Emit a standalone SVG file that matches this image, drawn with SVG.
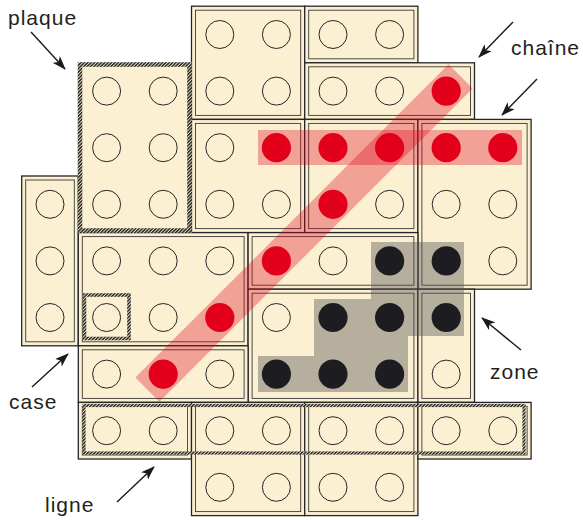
<svg xmlns="http://www.w3.org/2000/svg" width="583" height="520" viewBox="0 0 583 520">
<style>
.po{fill:#fbf0d2;stroke:#262526;stroke-width:1.3}
.pi{fill:none;stroke:#3a3838;stroke-width:0.9}
.st{fill:none;stroke:#262526;stroke-width:1}
.red{fill:#e2001a}
.blk{fill:#1d1c21}
.band{fill:#e2001a;fill-opacity:0.33}
.zone{fill:#555;fill-opacity:0.42}
.hat{fill:none;stroke:url(#hatch)}
.lbl{font-family:"Liberation Sans",Arial,sans-serif;font-size:21px;letter-spacing:1px;fill:#231f20}
.con{stroke:#1a1a1a;stroke-width:1.4;fill:none;marker-end:url(#ah)}
</style>
<defs>
<pattern id="hatch" width="2.4" height="2.4" patternUnits="userSpaceOnUse" patternTransform="rotate(45)">
<rect width="2.4" height="2.4" fill="#e8e0c4"/><rect width="1.4" height="2.4" fill="#1e1e1e"/>
</pattern>
<marker id="ah" markerWidth="14" markerHeight="10" refX="13" refY="5" orient="auto" markerUnits="userSpaceOnUse">
<path d="M0,0 L14,5 L0,10 L3.5,5 z" fill="#1a1a1a"/>
</marker>
</defs>
<rect width="583" height="520" fill="#fff"/>

<g id="p2"><rect class="po" x="191.5" y="6.2" width="113.2" height="113.2"/><rect class="pi" x="195.5" y="10.2" width="105.2" height="105.2"/>
<circle class="st" cx="219.8" cy="34.5" r="14"/><circle class="st" cx="276.4" cy="34.5" r="14"/><circle class="st" cx="219.8" cy="91.1" r="14"/><circle class="st" cx="276.4" cy="91.1" r="14"/></g>
<g id="p3"><rect class="po" x="304.7" y="6.2" width="113.2" height="56.6"/><rect class="pi" x="308.7" y="10.2" width="105.2" height="48.6"/>
<circle class="st" cx="333" cy="34.5" r="14"/><circle class="st" cx="389.6" cy="34.5" r="14"/></g>
<g id="p4"><rect class="po" x="304.7" y="62.8" width="169.8" height="56.6"/><rect class="pi" x="308.7" y="66.8" width="161.8" height="48.6"/>
<circle class="st" cx="333" cy="91.1" r="14"/><circle class="st" cx="389.6" cy="91.1" r="14"/></g>
<g id="p5"><rect class="po" x="191.5" y="119.4" width="113.2" height="113.2"/><rect class="pi" x="195.5" y="123.4" width="105.2" height="105.2"/>
<circle class="st" cx="219.8" cy="147.7" r="14"/><circle class="st" cx="219.8" cy="204.3" r="14"/><circle class="st" cx="276.4" cy="204.3" r="14"/></g>
<g id="p6"><rect class="po" x="304.7" y="119.4" width="113.2" height="113.2"/><rect class="pi" x="308.7" y="123.4" width="105.2" height="105.2"/>
<circle class="st" cx="389.6" cy="204.3" r="14"/></g>
<g id="p7"><rect class="po" x="417.9" y="119.4" width="113.2" height="169.8"/><rect class="pi" x="421.9" y="123.4" width="105.2" height="161.8"/>
<circle class="st" cx="446.2" cy="204.3" r="14"/><circle class="st" cx="502.8" cy="204.3" r="14"/><circle class="st" cx="502.8" cy="260.9" r="14"/></g>
<g id="p8"><rect class="po" x="21.7" y="176" width="56.6" height="169.8"/><rect class="pi" x="25.7" y="180" width="48.6" height="161.8"/>
<circle class="st" cx="50" cy="204.3" r="14"/><circle class="st" cx="50" cy="260.9" r="14"/><circle class="st" cx="50" cy="317.5" r="14"/></g>
<g id="p9"><rect class="po" x="78.3" y="232.6" width="169.8" height="113.2"/><rect class="pi" x="82.3" y="236.6" width="161.8" height="105.2"/>
<circle class="st" cx="106.6" cy="260.9" r="14"/><circle class="st" cx="163.2" cy="260.9" r="14"/><circle class="st" cx="219.8" cy="260.9" r="14"/><circle class="st" cx="106.6" cy="317.5" r="14"/><circle class="st" cx="163.2" cy="317.5" r="14"/></g>
<g id="p10"><rect class="po" x="248.1" y="232.6" width="169.8" height="56.6"/><rect class="pi" x="252.1" y="236.6" width="161.8" height="48.6"/>
<circle class="st" cx="333" cy="260.9" r="14"/></g>
<g id="p11"><rect class="po" x="248.1" y="289.2" width="169.8" height="113.2"/><rect class="pi" x="252.1" y="293.2" width="161.8" height="105.2"/>
<circle class="st" cx="276.4" cy="317.5" r="14"/></g>
<g id="p12"><rect class="po" x="417.9" y="289.2" width="56.6" height="113.2"/><rect class="pi" x="421.9" y="293.2" width="48.6" height="105.2"/>
<circle class="st" cx="446.2" cy="374.1" r="14"/></g>
<g id="p13"><rect class="po" x="78.3" y="345.8" width="169.8" height="56.6"/><rect class="pi" x="82.3" y="349.8" width="161.8" height="48.6"/>
<circle class="st" cx="106.6" cy="374.1" r="14"/><circle class="st" cx="219.8" cy="374.1" r="14"/></g>
<g id="p14"><rect class="po" x="78.3" y="402.4" width="113.2" height="56.6"/><rect class="pi" x="82.3" y="406.4" width="105.2" height="48.6"/>
<circle class="st" cx="106.6" cy="430.7" r="14"/><circle class="st" cx="163.2" cy="430.7" r="14"/></g>
<g id="p15"><rect class="po" x="191.5" y="402.4" width="113.2" height="113.2"/><rect class="pi" x="195.5" y="406.4" width="105.2" height="105.2"/>
<circle class="st" cx="219.8" cy="430.7" r="14"/><circle class="st" cx="276.4" cy="430.7" r="14"/><circle class="st" cx="219.8" cy="487.3" r="14"/><circle class="st" cx="276.4" cy="487.3" r="14"/></g>
<g id="p16"><rect class="po" x="304.7" y="402.4" width="113.2" height="113.2"/><rect class="pi" x="308.7" y="406.4" width="105.2" height="105.2"/>
<circle class="st" cx="333" cy="430.7" r="14"/><circle class="st" cx="389.6" cy="430.7" r="14"/><circle class="st" cx="333" cy="487.3" r="14"/><circle class="st" cx="389.6" cy="487.3" r="14"/></g>
<g id="p17"><rect class="po" x="417.9" y="402.4" width="113.2" height="56.6"/><rect class="pi" x="421.9" y="406.4" width="105.2" height="48.6"/>
<circle class="st" cx="446.2" cy="430.7" r="14"/><circle class="st" cx="502.8" cy="430.7" r="14"/></g>
<g id="plaque"><rect x="80" y="64.5" width="109.5" height="166" fill="#fbf0d2"/><rect class="hat" stroke-width="4.6" x="80" y="64.5" width="109.5" height="166"/>
<circle class="st" cx="106.6" cy="91.1" r="14"/><circle class="st" cx="163.2" cy="91.1" r="14"/><circle class="st" cx="106.6" cy="147.7" r="14"/><circle class="st" cx="163.2" cy="147.7" r="14"/><circle class="st" cx="106.6" cy="204.3" r="14"/><circle class="st" cx="163.2" cy="204.3" r="14"/></g>
<g id="case"><rect class="hat" stroke-width="3.6" x="84.5" y="295" width="44.5" height="43.5"/></g>
<g id="ligne"><rect class="hat" stroke-width="3.2" x="84" y="405.5" width="440" height="47.5"/></g>

<g id="overlays">
<rect class="band" x="258" y="130" width="264" height="35"/>
<rect class="band" x="-221.5" y="-17" width="443" height="34" transform="translate(304,233) rotate(-45)"/>
<polygon class="zone" points="371,242 464,242 464,336 408,336 408,392 258,392 258,356 314,356 314,299 371,299"/>
</g>

<g id="stones">
<circle class="red" cx="446.2" cy="91.1" r="14.6"/><circle class="red" cx="276.4" cy="147.7" r="14.6"/><circle class="red" cx="333" cy="147.7" r="14.6"/><circle class="red" cx="389.6" cy="147.7" r="14.6"/><circle class="red" cx="446.2" cy="147.7" r="14.6"/><circle class="red" cx="502.8" cy="147.7" r="14.6"/><circle class="red" cx="333" cy="204.3" r="14.6"/><circle class="red" cx="276.4" cy="260.9" r="14.6"/><circle class="red" cx="219.8" cy="317.5" r="14.6"/><circle class="red" cx="163.2" cy="374.1" r="14.6"/>
<circle class="blk" cx="389.6" cy="260.9" r="14.6"/><circle class="blk" cx="446.2" cy="260.9" r="14.6"/><circle class="blk" cx="333" cy="317.5" r="14.6"/><circle class="blk" cx="389.6" cy="317.5" r="14.6"/><circle class="blk" cx="446.2" cy="317.5" r="14.6"/><circle class="blk" cx="276.4" cy="374.1" r="14.6"/><circle class="blk" cx="333" cy="374.1" r="14.6"/><circle class="blk" cx="389.6" cy="374.1" r="14.6"/>
</g>

<g id="connectors">
<line class="con" x1="31" y1="32" x2="65" y2="69"/>
<line class="con" x1="513" y1="22" x2="479" y2="57"/>
<line class="con" x1="537" y1="79" x2="502" y2="115"/>
<line class="con" x1="521" y1="350" x2="482" y2="318"/>
<line class="con" x1="32" y1="387" x2="68" y2="354"/>
<line class="con" x1="117" y1="502" x2="154" y2="467"/>
</g>

<g id="labels">
<text class="lbl" x="8" y="25">plaque</text>
<text class="lbl" x="511" y="55">chaîne</text>
<text class="lbl" x="490" y="379">zone</text>
<text class="lbl" x="9" y="409">case</text>
<text class="lbl" x="45" y="512">ligne</text>
</g>
</svg>
